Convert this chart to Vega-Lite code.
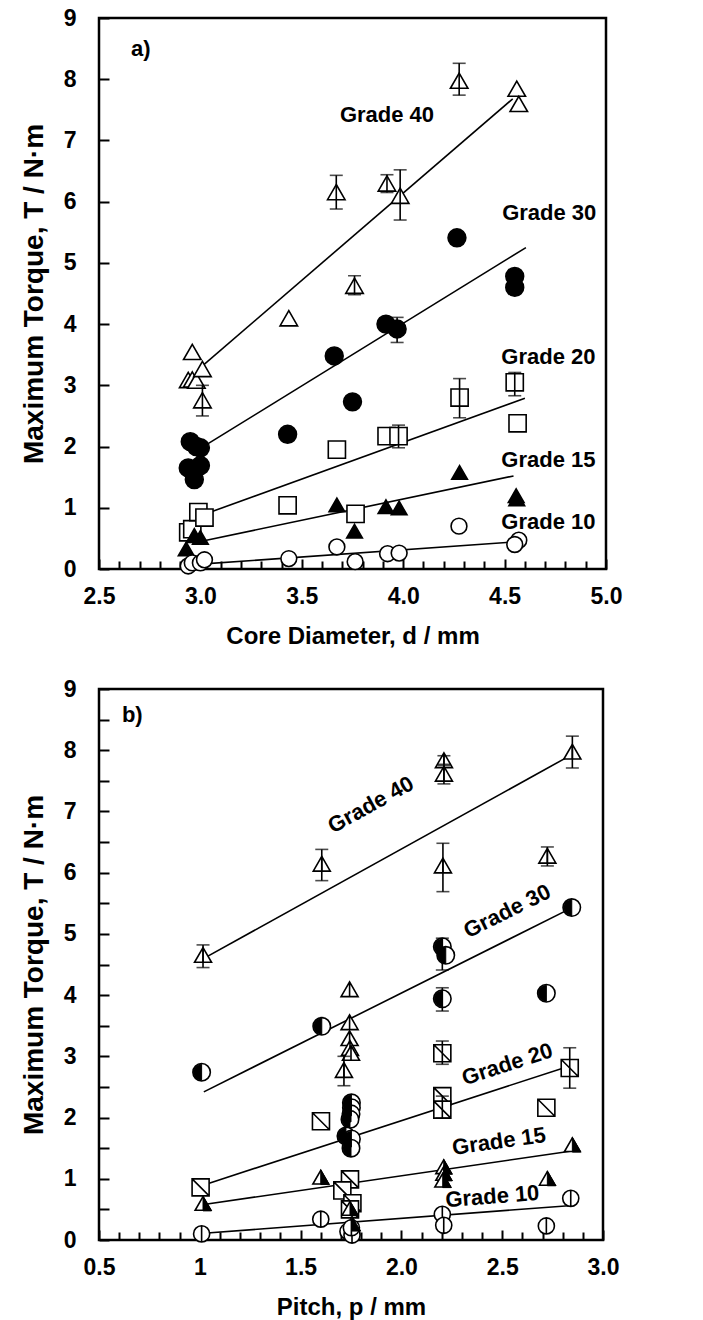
{
  "$schema": "https://vega.github.io/schema/vega-lite/v6.json",
  "background": "white",
  "padding": {"left": 18, "top": 5, "right": 5, "bottom": 0},
  "spacing": 26,
  "config": {
    "font": "Liberation Sans",
    "view": {"stroke": "black", "strokeWidth": 2.5},
    "axis": {
      "domain": false, "grid": false, "tickColor": "black", "tickWidth": 2,
      "labelColor": "black", "labelFont": "Liberation Sans", "labelFontSize": 23, "labelFontWeight": "bold",
      "titleColor": "black", "titleFont": "Liberation Sans", "titleFontSize": 24, "titleFontWeight": "bold",
      "labelOverlap": false, "labelFlush": false
    },
    "text": {"font": "Liberation Sans", "fontWeight": "bold", "fontSize": 22, "color": "black"}
  },
  "datasets": {
    "pa_pts": [
      {"grade": "Grade 40", "x": 2.96, "y": 3.55}, {"grade": "Grade 40", "x": 2.94, "y": 3.09}, {"grade": "Grade 40", "x": 2.96, "y": 3.1}, {"grade": "Grade 40", "x": 2.98, "y": 3.08},
      {"grade": "Grade 40", "x": 3.01, "y": 3.27}, {"grade": "Grade 40", "x": 3.01, "y": 2.76}, {"grade": "Grade 40", "x": 3.436, "y": 4.1}, {"grade": "Grade 40", "x": 3.67, "y": 6.16},
      {"grade": "Grade 40", "x": 3.76, "y": 4.63}, {"grade": "Grade 40", "x": 3.92, "y": 6.3}, {"grade": "Grade 40", "x": 3.985, "y": 6.1}, {"grade": "Grade 40", "x": 4.276, "y": 7.98},
      {"grade": "Grade 40", "x": 4.56, "y": 7.85}, {"grade": "Grade 40", "x": 4.57, "y": 7.6},
      {"grade": "Grade 30", "x": 2.95, "y": 2.08}, {"grade": "Grade 30", "x": 2.98, "y": 2.0}, {"grade": "Grade 30", "x": 3.0, "y": 1.98}, {"grade": "Grade 30", "x": 2.94, "y": 1.65},
      {"grade": "Grade 30", "x": 3.0, "y": 1.69}, {"grade": "Grade 30", "x": 2.97, "y": 1.46}, {"grade": "Grade 30", "x": 3.43, "y": 2.2}, {"grade": "Grade 30", "x": 3.66, "y": 3.48},
      {"grade": "Grade 30", "x": 3.75, "y": 2.73}, {"grade": "Grade 30", "x": 3.915, "y": 4.0}, {"grade": "Grade 30", "x": 3.97, "y": 3.92}, {"grade": "Grade 30", "x": 4.265, "y": 5.41},
      {"grade": "Grade 30", "x": 4.55, "y": 4.78}, {"grade": "Grade 30", "x": 4.55, "y": 4.6},
      {"grade": "Grade 20", "x": 2.94, "y": 0.6}, {"grade": "Grade 20", "x": 2.96, "y": 0.65}, {"grade": "Grade 20", "x": 2.99, "y": 0.93}, {"grade": "Grade 20", "x": 3.02, "y": 0.84},
      {"grade": "Grade 20", "x": 3.43, "y": 1.04}, {"grade": "Grade 20", "x": 3.673, "y": 1.95}, {"grade": "Grade 20", "x": 3.765, "y": 0.9}, {"grade": "Grade 20", "x": 3.918, "y": 2.17},
      {"grade": "Grade 20", "x": 3.977, "y": 2.17}, {"grade": "Grade 20", "x": 4.278, "y": 2.8}, {"grade": "Grade 20", "x": 4.55, "y": 3.05}, {"grade": "Grade 20", "x": 4.564, "y": 2.38},
      {"grade": "Grade 15", "x": 2.93, "y": 0.33}, {"grade": "Grade 15", "x": 2.97, "y": 0.55}, {"grade": "Grade 15", "x": 3.0, "y": 0.52}, {"grade": "Grade 15", "x": 3.673, "y": 1.05},
      {"grade": "Grade 15", "x": 3.76, "y": 0.62}, {"grade": "Grade 15", "x": 3.915, "y": 1.02}, {"grade": "Grade 15", "x": 3.98, "y": 1.0}, {"grade": "Grade 15", "x": 4.278, "y": 1.58},
      {"grade": "Grade 15", "x": 4.557, "y": 1.2}, {"grade": "Grade 15", "x": 4.56, "y": 1.15},
      {"grade": "Grade 10", "x": 2.94, "y": 0.05}, {"grade": "Grade 10", "x": 2.96, "y": 0.1}, {"grade": "Grade 10", "x": 3.0, "y": 0.1}, {"grade": "Grade 10", "x": 3.02, "y": 0.15},
      {"grade": "Grade 10", "x": 3.436, "y": 0.17}, {"grade": "Grade 10", "x": 3.673, "y": 0.36}, {"grade": "Grade 10", "x": 3.763, "y": 0.12}, {"grade": "Grade 10", "x": 3.923, "y": 0.25},
      {"grade": "Grade 10", "x": 3.98, "y": 0.26}, {"grade": "Grade 10", "x": 4.275, "y": 0.7}, {"grade": "Grade 10", "x": 4.57, "y": 0.47}, {"grade": "Grade 10", "x": 4.55, "y": 0.4}
    ],
    "pa_err": [
      {"x": 3.01, "y": 2.5, "y2": 3.0}, {"x": 3.67, "y": 5.88, "y2": 6.43}, {"x": 3.76, "y": 4.48, "y2": 4.79}, {"x": 3.92, "y": 6.15, "y2": 6.44},
      {"x": 3.985, "y": 5.7, "y2": 6.52}, {"x": 4.276, "y": 7.74, "y2": 8.26}, {"x": 3.97, "y": 3.7, "y2": 4.11}, {"x": 4.55, "y": 2.83, "y2": 3.21},
      {"x": 4.278, "y": 2.47, "y2": 3.11}, {"x": 3.977, "y": 1.98, "y2": 2.35}
    ],
    "pa_lines": [
      {"grade": "Grade 40", "x": 3.0, "y": 3.29}, {"grade": "Grade 40", "x": 4.54, "y": 7.68},
      {"grade": "Grade 30", "x": 3.0, "y": 1.97}, {"grade": "Grade 30", "x": 4.605, "y": 5.25},
      {"grade": "Grade 20", "x": 3.0, "y": 0.87}, {"grade": "Grade 20", "x": 4.6, "y": 2.79},
      {"grade": "Grade 15", "x": 3.0, "y": 0.45}, {"grade": "Grade 15", "x": 4.544, "y": 1.52},
      {"grade": "Grade 10", "x": 3.0, "y": 0.08}, {"grade": "Grade 10", "x": 4.544, "y": 0.44}
    ],
    "pa_labels": [
      {"label": "a)", "x": 2.706, "y": 8.49}, {"label": "Grade 40", "x": 3.92, "y": 7.41}, {"label": "Grade 30", "x": 4.72, "y": 5.81},
      {"label": "Grade 20", "x": 4.716, "y": 3.47}, {"label": "Grade 15", "x": 4.716, "y": 1.78}, {"label": "Grade 10", "x": 4.716, "y": 0.77}
    ],
    "pb_pts": [
      {"grade": "Grade 40", "x": 1.016, "y": 4.66}, {"grade": "Grade 40", "x": 1.605, "y": 6.15}, {"grade": "Grade 40", "x": 1.743, "y": 4.1}, {"grade": "Grade 40", "x": 1.743, "y": 3.56},
      {"grade": "Grade 40", "x": 1.743, "y": 3.3}, {"grade": "Grade 40", "x": 1.745, "y": 3.14}, {"grade": "Grade 40", "x": 1.75, "y": 3.06}, {"grade": "Grade 40", "x": 1.715, "y": 2.78},
      {"grade": "Grade 40", "x": 2.211, "y": 7.84}, {"grade": "Grade 40", "x": 2.211, "y": 7.62}, {"grade": "Grade 40", "x": 2.206, "y": 6.12}, {"grade": "Grade 40", "x": 2.724, "y": 6.28},
      {"grade": "Grade 40", "x": 2.848, "y": 7.98},
      {"grade": "Grade 30", "x": 1.009, "y": 2.74}, {"grade": "Grade 30", "x": 1.605, "y": 3.49}, {"grade": "Grade 30", "x": 2.203, "y": 4.79}, {"grade": "Grade 30", "x": 2.22, "y": 4.65},
      {"grade": "Grade 30", "x": 2.203, "y": 3.94}, {"grade": "Grade 30", "x": 2.719, "y": 4.03}, {"grade": "Grade 30", "x": 2.845, "y": 5.43}, {"grade": "Grade 30", "x": 1.752, "y": 2.24},
      {"grade": "Grade 30", "x": 1.752, "y": 2.16}, {"grade": "Grade 30", "x": 1.75, "y": 2.06}, {"grade": "Grade 30", "x": 1.745, "y": 1.97}, {"grade": "Grade 30", "x": 1.725, "y": 1.7},
      {"grade": "Grade 30", "x": 1.752, "y": 1.65}, {"grade": "Grade 30", "x": 1.75, "y": 1.5},
      {"grade": "Grade 20", "x": 1.004, "y": 0.86}, {"grade": "Grade 20", "x": 1.601, "y": 1.94}, {"grade": "Grade 20", "x": 1.745, "y": 0.99}, {"grade": "Grade 20", "x": 1.707, "y": 0.81},
      {"grade": "Grade 20", "x": 1.757, "y": 0.6}, {"grade": "Grade 20", "x": 1.745, "y": 0.5}, {"grade": "Grade 20", "x": 2.203, "y": 3.05}, {"grade": "Grade 20", "x": 2.203, "y": 2.35},
      {"grade": "Grade 20", "x": 2.203, "y": 2.13}, {"grade": "Grade 20", "x": 2.719, "y": 2.16}, {"grade": "Grade 20", "x": 2.835, "y": 2.81},
      {"grade": "Grade 15", "x": 1.016, "y": 0.6}, {"grade": "Grade 15", "x": 1.6, "y": 1.03}, {"grade": "Grade 15", "x": 1.745, "y": 0.52}, {"grade": "Grade 15", "x": 1.755, "y": 0.27},
      {"grade": "Grade 15", "x": 2.21, "y": 1.2}, {"grade": "Grade 15", "x": 2.21, "y": 1.09}, {"grade": "Grade 15", "x": 2.205, "y": 0.98}, {"grade": "Grade 15", "x": 2.724, "y": 1.01},
      {"grade": "Grade 15", "x": 2.848, "y": 1.56},
      {"grade": "Grade 10", "x": 1.009, "y": 0.1}, {"grade": "Grade 10", "x": 1.6, "y": 0.34}, {"grade": "Grade 10", "x": 1.735, "y": 0.14}, {"grade": "Grade 10", "x": 1.755, "y": 0.08},
      {"grade": "Grade 10", "x": 1.752, "y": 0.2}, {"grade": "Grade 10", "x": 2.203, "y": 0.42}, {"grade": "Grade 10", "x": 2.21, "y": 0.24}, {"grade": "Grade 10", "x": 2.719, "y": 0.23},
      {"grade": "Grade 10", "x": 2.84, "y": 0.68}
    ],
    "pb_err": [
      {"x": 1.016, "y": 4.45, "y2": 4.82}, {"x": 1.605, "y": 5.87, "y2": 6.38}, {"x": 2.211, "y": 7.77, "y2": 7.91}, {"x": 2.211, "y": 7.45, "y2": 7.75},
      {"x": 2.206, "y": 5.69, "y2": 6.48}, {"x": 2.724, "y": 6.11, "y2": 6.42}, {"x": 2.848, "y": 7.71, "y2": 8.23}, {"x": 1.715, "y": 2.52, "y2": 3.0},
      {"x": 2.203, "y": 4.41, "y2": 4.93}, {"x": 2.203, "y": 3.74, "y2": 4.12}, {"x": 2.203, "y": 2.87, "y2": 3.25}, {"x": 2.835, "y": 2.48, "y2": 3.14},
      {"x": 2.203, "y": 1.99, "y2": 2.35}
    ],
    "pb_lines": [
      {"grade": "Grade 40", "x": 1.02, "y": 4.6}, {"grade": "Grade 40", "x": 2.83, "y": 7.9},
      {"grade": "Grade 30", "x": 1.02, "y": 2.42}, {"grade": "Grade 30", "x": 2.83, "y": 5.4},
      {"grade": "Grade 20", "x": 1.02, "y": 0.9}, {"grade": "Grade 20", "x": 2.85, "y": 2.86},
      {"grade": "Grade 15", "x": 1.02, "y": 0.58}, {"grade": "Grade 15", "x": 2.88, "y": 1.47},
      {"grade": "Grade 10", "x": 1.02, "y": 0.11}, {"grade": "Grade 10", "x": 2.83, "y": 0.56}
    ],
    "pb_labels": [
      {"label": "b)", "x": 0.665, "y": 8.58}, {"label": "Grade 40", "x": 1.848, "y": 7.11}, {"label": "Grade 30", "x": 2.525, "y": 5.37},
      {"label": "Grade 20", "x": 2.525, "y": 2.87}, {"label": "Grade 15", "x": 2.484, "y": 1.61}, {"label": "Grade 10", "x": 2.451, "y": 0.71}
    ]
  },
  "vconcat": [
    {
      "width": 507,
      "height": 551,
      "encoding": {
        "x": {
          "field": "x", "type": "quantitative",
          "scale": {"domain": [2.5, 5.0], "nice": false, "zero": false},
          "axis": {
            "title": "Core Diameter, d / mm",
            "values": [2.5, 2.6, 2.7, 2.8, 2.9, 3.0, 3.1, 3.2, 3.3, 3.4, 3.5, 3.6, 3.7, 3.8, 3.9, 4.0, 4.1, 4.2, 4.3, 4.4, 4.5, 4.6, 4.7, 4.8, 4.9, 5.0],
            "labelExpr": "abs(datum.value*2 - round(datum.value*2)) < 0.001 ? format(datum.value, '.1f') : ''",
            "tickSize": {"condition": {"test": "abs(datum.value*2 - round(datum.value*2)) < 0.001", "value": -10}, "value": -8},
            "labelPadding": 26, "titlePadding": 14
          }
        },
        "y": {
          "field": "y", "type": "quantitative",
          "scale": {"domain": [0, 9], "nice": false},
          "axis": {
            "title": "Maximum Torque, T / N·m",
            "values": [0, 1, 2, 3, 4, 5, 6, 7, 8, 9],
            "tickSize": -10, "labelPadding": 33, "titlePadding": 15, "titleFontSize": 28
          }
        }
      },
      "layer": [
        {
          "data": {"name": "pa_lines"},
          "mark": {"type": "line", "color": "black", "strokeWidth": 1.6},
          "encoding": {"detail": {"field": "grade", "type": "nominal"}}
        },
        {
          "data": {"name": "pa_pts"},
          "mark": {"type": "point", "filled": true, "stroke": "black", "strokeWidth": 1.6, "opacity": 1},
          "encoding": {
            "shape": {"field": "grade", "type": "nominal", "legend": null,
              "scale": {"domain": ["Grade 40", "Grade 30", "Grade 20", "Grade 15", "Grade 10"],
                "range": ["M0,-0.8L0.95,0.85L-0.95,0.85Z", "circle", "square", "M0,-0.8L0.95,0.85L-0.95,0.85Z", "circle"]}},
            "fill": {"field": "grade", "type": "nominal", "legend": null,
              "scale": {"domain": ["Grade 40", "Grade 30", "Grade 20", "Grade 15", "Grade 10"],
                "range": ["white", "black", "white", "black", "white"]}},
            "size": {"field": "grade", "type": "nominal", "legend": null,
              "scale": {"domain": ["Grade 40", "Grade 30", "Grade 20", "Grade 15", "Grade 10"],
                "range": [340, 250, 225, 320, 250]}}
          }
        },
        {
          "data": {"name": "pa_err"},
          "mark": {"type": "errorbar", "ticks": true, "size": 13, "thickness": 1.6, "color": "black"},
          "encoding": {"y2": {"field": "y2"}}
        },
        {
          "data": {"name": "pa_labels"},
          "mark": {"type": "text", "align": "center", "baseline": "middle", "fontSize": 22, "fontWeight": "bold"},
          "encoding": {"text": {"field": "label", "type": "nominal"}}
        }
      ]
    },
    {
      "width": 504,
      "height": 551,
      "resolve": {"scale": {"shape": "independent", "size": "independent"}},
      "encoding": {
        "x": {
          "field": "x", "type": "quantitative",
          "scale": {"domain": [0.5, 3.0], "nice": false, "zero": false},
          "axis": {
            "title": "Pitch, p / mm",
            "values": [0.5, 0.6, 0.7, 0.8, 0.9, 1.0, 1.1, 1.2, 1.3, 1.4, 1.5, 1.6, 1.7, 1.8, 1.9, 2.0, 2.1, 2.2, 2.3, 2.4, 2.5, 2.6, 2.7, 2.8, 2.9, 3.0],
            "labelExpr": "abs(datum.value*2 - round(datum.value*2)) < 0.001 ? (abs(datum.value - 1) < 0.001 ? '1' : format(datum.value, '.1f')) : ''",
            "tickSize": {"condition": {"test": "abs(datum.value*2 - round(datum.value*2)) < 0.001", "value": -10}, "value": -8},
            "labelPadding": 26, "titlePadding": 14
          }
        },
        "y": {
          "field": "y", "type": "quantitative",
          "scale": {"domain": [0, 9], "nice": false},
          "axis": {
            "title": "Maximum Torque, T / N·m",
            "values": [0, 0.5, 1, 1.5, 2, 2.5, 3, 3.5, 4, 4.5, 5, 5.5, 6, 6.5, 7, 7.5, 8, 8.5, 9],
            "labelExpr": "abs(datum.value - round(datum.value)) < 0.001 ? format(datum.value, '.0f') : ''",
            "tickSize": -10, "labelPadding": 33, "titlePadding": 15, "titleFontSize": 28
          }
        }
      },
      "layer": [
        {
          "data": {"name": "pb_lines"},
          "mark": {"type": "line", "color": "black", "strokeWidth": 1.6},
          "encoding": {"detail": {"field": "grade", "type": "nominal"}}
        },
        {
          "data": {"name": "pb_pts"},
          "mark": {"type": "point", "filled": true, "fill": "white", "stroke": "black", "strokeWidth": 1.6, "opacity": 1},
          "encoding": {
            "shape": {"field": "grade", "type": "nominal", "legend": null,
              "scale": {"domain": ["Grade 40", "Grade 30", "Grade 20", "Grade 15", "Grade 10"],
                "range": ["M0,-0.8L0.95,0.85L-0.95,0.85ZM0,-0.8L0,0.85", "circle", "M-1,-1L1,-1L1,1L-1,1ZM-1,-1L1,1", "M0,-0.8L0.95,0.85L-0.95,0.85Z", "M-1,0A1,1 0 1,0 1,0A1,1 0 1,0 -1,0ZM0,-1L0,1"]}},
            "size": {"field": "grade", "type": "nominal", "legend": null,
              "scale": {"domain": ["Grade 40", "Grade 30", "Grade 20", "Grade 15", "Grade 10"],
                "range": [320, 260, 230, 320, 260]}}
          }
        },
        {
          "data": {"name": "pb_pts"},
          "transform": [{"filter": {"field": "grade", "oneOf": ["Grade 30", "Grade 15"]}}],
          "mark": {"type": "point", "filled": true, "fill": "black", "stroke": "black", "strokeWidth": 1, "opacity": 1},
          "encoding": {
            "shape": {"field": "grade", "type": "nominal", "legend": null,
              "scale": {"domain": ["Grade 30", "Grade 15"],
                "range": ["M0,-1A1,1 0 0,0 0,1Z", "M0,-0.8L0.95,0.85L0,0.85Z"]}},
            "size": {"field": "grade", "type": "nominal", "legend": null,
              "scale": {"domain": ["Grade 30", "Grade 15"], "range": [260, 320]}}
          }
        },
        {
          "data": {"name": "pb_err"},
          "mark": {"type": "errorbar", "ticks": true, "size": 13, "thickness": 1.6, "color": "black"},
          "encoding": {"y2": {"field": "y2"}}
        },
        {
          "data": {"name": "pb_labels"},
          "transform": [{"filter": "datum.label == 'b)'"}],
          "mark": {"type": "text", "align": "center", "baseline": "middle", "fontSize": 22, "fontWeight": "bold"},
          "encoding": {"text": {"field": "label", "type": "nominal"}}
        },
        {
          "data": {"name": "pb_labels"},
          "transform": [{"filter": "datum.label == 'Grade 40'"}],
          "mark": {"type": "text", "align": "center", "baseline": "middle", "fontSize": 22, "fontWeight": "bold", "angle": -29},
          "encoding": {"text": {"field": "label", "type": "nominal"}}
        },
        {
          "data": {"name": "pb_labels"},
          "transform": [{"filter": "datum.label == 'Grade 30'"}],
          "mark": {"type": "text", "align": "center", "baseline": "middle", "fontSize": 22, "fontWeight": "bold", "angle": -26.5},
          "encoding": {"text": {"field": "label", "type": "nominal"}}
        },
        {
          "data": {"name": "pb_labels"},
          "transform": [{"filter": "datum.label == 'Grade 20'"}],
          "mark": {"type": "text", "align": "center", "baseline": "middle", "fontSize": 22, "fontWeight": "bold", "angle": -18},
          "encoding": {"text": {"field": "label", "type": "nominal"}}
        },
        {
          "data": {"name": "pb_labels"},
          "transform": [{"filter": "datum.label == 'Grade 15'"}],
          "mark": {"type": "text", "align": "center", "baseline": "middle", "fontSize": 22, "fontWeight": "bold", "angle": -8},
          "encoding": {"text": {"field": "label", "type": "nominal"}}
        },
        {
          "data": {"name": "pb_labels"},
          "transform": [{"filter": "datum.label == 'Grade 10'"}],
          "mark": {"type": "text", "align": "center", "baseline": "middle", "fontSize": 22, "fontWeight": "bold", "angle": -4.5},
          "encoding": {"text": {"field": "label", "type": "nominal"}}
        }
      ]
    }
  ]
}
